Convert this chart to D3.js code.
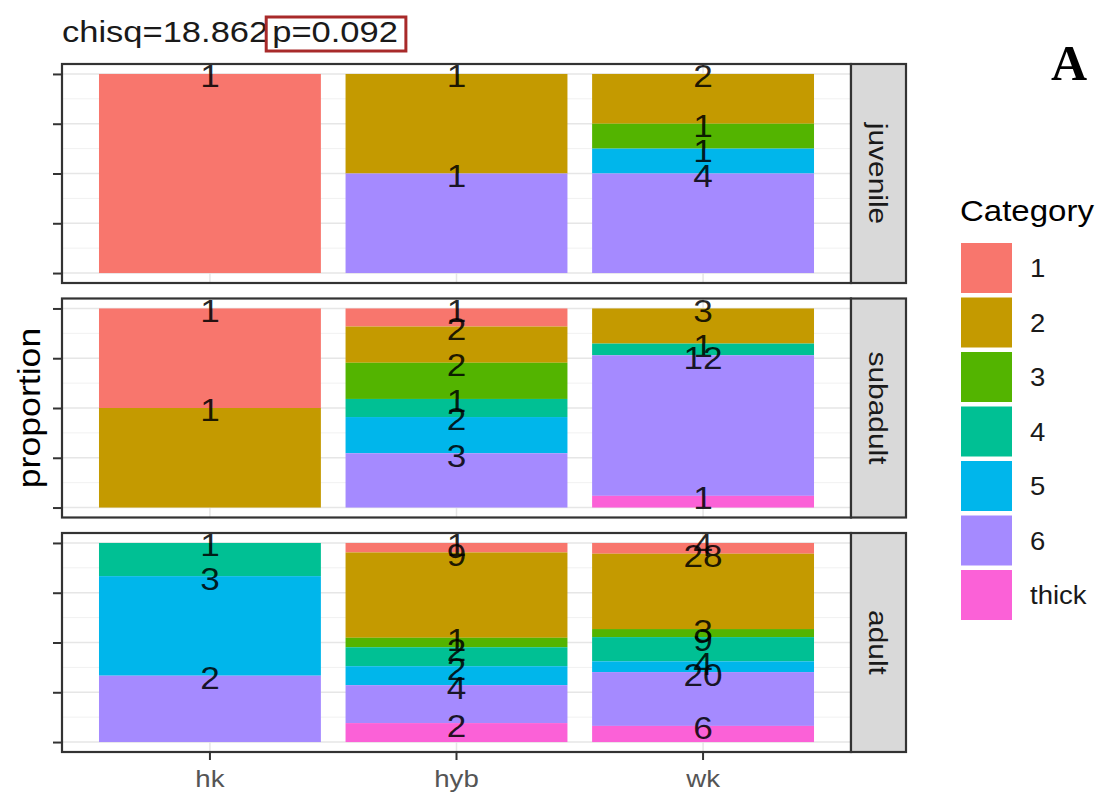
<!DOCTYPE html>
<html>
<head>
<meta charset="utf-8">
<script src="https://cdn.jsdelivr.net/npm/d3@7"></script>
<style>
  html, body { margin: 0; padding: 0; background: #fff; }
  svg { display: block; }
  text { font-family: "Liberation Sans", Arial, sans-serif; }
  text.serif { font-family: "Liberation Serif", "DejaVu Serif", serif; }
</style>
</head>
<body>
<svg id="chart" width="1110" height="796"></svg>
<script>
// ---------- data ----------
const stages = ["juvenile", "subadult", "adult"];
const groups = ["hk", "hyb", "wk"];
const categories = ["1", "2", "3", "4", "5", "6", "thick"];
const categoryColors = ["#F8766D", "#C49A00", "#53B400", "#00C094", "#00B6EB", "#A58AFF", "#FB61D7"];
// counts per group (hk, hyb, wk), each in category order 1..6, thick
const juvenileCounts = [
  [1, 0, 0, 0, 0, 0, 0],
  [0, 1, 0, 0, 0, 1, 0],
  [0, 2, 1, 0, 1, 4, 0]
];
const subadultCounts = [
  [1, 1, 0, 0, 0, 0, 0],
  [1, 2, 2, 1, 2, 3, 0],
  [0, 3, 0, 1, 0, 12, 1]
];
const adultCounts = [
  [0, 0, 0, 1, 3, 2, 0],
  [1, 9, 1, 2, 2, 4, 2],
  [4, 28, 3, 9, 4, 20, 6]
];
const yTicks = [0, 0.25, 0.5, 0.75, 1];
const yMinor = [0.125, 0.375, 0.625, 0.875];
const titleMain = "chisq=18.862 ";
const titleP = "p=0.092";
const legendTitle = "Category";
const panelLetter = "A";
const yLabel = "proportion";

// ---------- layout ----------
const SX = 1.15; // horizontal glyph widening seen in the reference
const svg = d3.select("#chart");
const panelLeft = 62, panelRight = 851, stripRight = 906;
const panelTops = [64, 298.5, 533];
const panelH = 219;

function widen(sel, f) {
  const k = f || SX;
  sel.each(function () {
    const len = this.getComputedTextLength();
    d3.select(this).attr("textLength", len * k).attr("lengthAdjust", "spacingAndGlyphs");
  });
  return sel;
}

const x = d3.scaleBand().domain(groups).range([panelLeft, panelRight])
  .paddingInner(0.1).paddingOuter(0.15);
const color = d3.scaleOrdinal().domain(categories).range(categoryColors);

const allCounts = [juvenileCounts, subadultCounts, adultCounts];

stages.forEach((stage, si) => {
  const top = panelTops[si];
  const y = d3.scaleLinear().domain([-0.05, 1.05]).range([top + panelH, top]);
  const g = svg.append("g");

  g.append("rect").attr("x", panelLeft).attr("y", top)
    .attr("width", panelRight - panelLeft).attr("height", panelH).attr("fill", "#fff");

  g.selectAll(".minor").data(yMinor).enter().append("line")
    .attr("x1", panelLeft).attr("x2", panelRight)
    .attr("y1", d => y(d)).attr("y2", d => y(d))
    .attr("stroke", "#f1f1f1").attr("stroke-width", 1);
  g.selectAll(".major").data(yTicks).enter().append("line")
    .attr("x1", panelLeft).attr("x2", panelRight)
    .attr("y1", d => y(d)).attr("y2", d => y(d))
    .attr("stroke", "#e6e6e6").attr("stroke-width", 1.5);
  g.selectAll(".vmajor").data(groups).enter().append("line")
    .attr("x1", d => x(d) + x.bandwidth() / 2).attr("x2", d => x(d) + x.bandwidth() / 2)
    .attr("y1", top).attr("y2", top + panelH)
    .attr("stroke", "#e6e6e6").attr("stroke-width", 1.5);

  // stacked proportions: category 1 on top
  const counts = allCounts[si];
  const segs = [];
  groups.forEach((grp, gi) => {
    const row = counts[gi];
    const total = d3.sum(row);
    let cum = 1;
    row.forEach((c, ci) => {
      if (c > 0) {
        const p = c / total;
        segs.push({ grp, cat: categories[ci], n: c, y1: cum, y0: cum - p });
        cum -= p;
      }
    });
  });

  g.selectAll(".seg").data(segs).enter().append("rect")
    .attr("x", d => x(d.grp)).attr("width", x.bandwidth())
    .attr("y", d => y(d.y1)).attr("height", d => y(d.y0) - y(d.y1))
    .attr("fill", d => color(d.cat));

  const labels = g.selectAll(".lab").data(segs).enter().append("text")
    .attr("x", d => x(d.grp) + x.bandwidth() / 2)
    .attr("y", d => y(d.y1)).attr("dy", "0.42em")
    .attr("text-anchor", "middle").attr("font-size", 32)
    .attr("fill", "#000").attr("fill-opacity", 0.85)
    .text(d => d.n);
  widen(labels, 1.1);

  const yAxis = g.append("g").attr("transform", `translate(${panelLeft},0)`)
    .call(d3.axisLeft(y).tickValues(yTicks).tickFormat("").tickSize(9).tickSizeOuter(0));
  yAxis.select(".domain").remove();
  yAxis.selectAll(".tick line").attr("stroke", "#333").attr("stroke-width", 2);

  g.append("rect").attr("x", panelLeft).attr("y", top)
    .attr("width", panelRight - panelLeft).attr("height", panelH)
    .attr("fill", "none").attr("stroke", "#333").attr("stroke-width", 2.2);

  g.append("rect").attr("x", panelRight).attr("y", top)
    .attr("width", stripRight - panelRight).attr("height", panelH)
    .attr("fill", "#d9d9d9").attr("stroke", "#333").attr("stroke-width", 2.2);
  const st = g.append("text")
    .attr("transform", `translate(${(panelRight + stripRight) / 2},${top + panelH / 2}) rotate(90)`)
    .attr("text-anchor", "middle").attr("dy", "0.35em")
    .attr("font-size", 26).attr("fill", "#1a1a1a").text(stage);
  widen(st);

  if (si === stages.length - 1) {
    const xAxis = g.append("g").attr("transform", `translate(0,${top + panelH})`)
      .call(d3.axisBottom(x).tickSize(8).tickSizeOuter(0).tickPadding(10));
    xAxis.select(".domain").remove();
    xAxis.selectAll(".tick line").attr("stroke", "#333").attr("stroke-width", 2);
    const xt = xAxis.selectAll(".tick text").attr("font-size", 24).attr("fill", "#555")
      .style("font-family", "Liberation Sans, Arial, sans-serif");
    widen(xt);
  }
});

// y-axis title
const yl = svg.append("text")
  .attr("transform", `translate(40,${(panelTops[0] + panelTops[2] + panelH) / 2}) rotate(-90)`)
  .attr("text-anchor", "middle").attr("font-size", 31).attr("fill", "#000").text(yLabel);
widen(yl);

// title
const t1 = svg.append("text").attr("x", 62).attr("y", 42)
  .attr("font-size", 30).attr("fill", "#1a1a1a").text(titleMain);
widen(t1);
const t1w = +t1.attr("textLength");
const t2x = 62 + t1w + 4;
const t2 = svg.append("text").attr("x", t2x).attr("y", 42)
  .attr("font-size", 30).attr("fill", "#1a1a1a").text(titleP);
widen(t2);
const t2w = +t2.attr("textLength");
svg.append("rect").attr("x", t2x - 6).attr("y", 17).attr("width", t2w + 14).attr("height", 34)
  .attr("fill", "none").attr("stroke", "#a82a2a").attr("stroke-width", 3);

// panel letter
svg.append("text").attr("class", "serif").attr("x", 1069).attr("y", 80).attr("text-anchor", "middle")
  .attr("font-weight", "bold").attr("font-size", 50).attr("fill", "#000").text(panelLetter);

// legend
const lt = svg.append("text").attr("x", 960).attr("y", 221)
  .attr("font-size", 30).attr("fill", "#000").text(legendTitle);
widen(lt, 1.1);
const legend = svg.append("g");
const keyY = d3.scaleBand().domain(categories).range([240.5, 240.5 + 54.5 * categories.length]).paddingInner(0);
categories.forEach(c => {
  legend.append("rect").attr("x", 961).attr("y", keyY(c) + 2.5)
    .attr("width", 51).attr("height", 50).attr("fill", color(c));
  const tx = legend.append("text").attr("x", 1030).attr("y", keyY(c) + 27.5)
    .attr("dy", "0.36em").attr("font-size", 25).attr("fill", "#1a1a1a").text(c);
  widen(tx, 1.1);
});
</script>
</body>
</html>
